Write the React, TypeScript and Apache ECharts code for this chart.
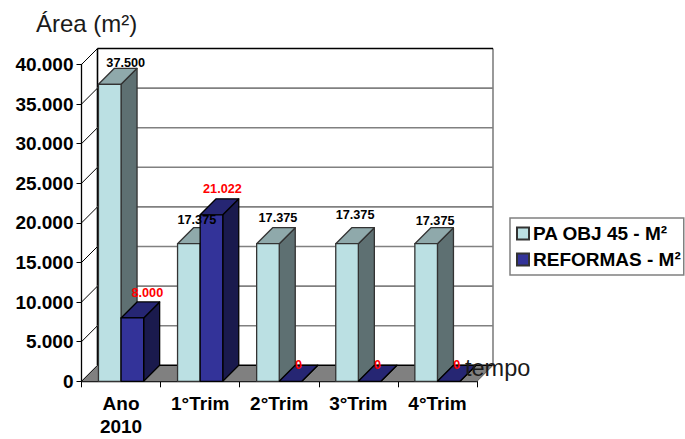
import React, { useEffect, useRef } from "react";
import * as echarts from "echarts";

const categories = ["Ano\n2010", "1°Trim", "2°Trim", "3°Trim", "4°Trim"];
const paObj = [37500, 17375, 17375, 17375, 17375];
const reformas = [8000, 21022, 0, 0, 0];
const yTicks = [0, 5000, 10000, 15000, 20000, 25000, 30000, 35000, 40000];

const DEPTH = 16;
const BAR_W = 22.6;
const FONT = "Liberation Sans, Arial, sans-serif";

// hand placement of the value labels relative to the centre of each bar's top face
const paNudge = [[8, -5], [0, -8], [2, -10], [0, -13], [1, -7]];
const refNudge = [[7, -9], [3, -10], [0, 0], [0, 0], [0, 0]];

const fmt = (v: number) =>
  String(v).replace(/\B(?=(\d{3})+(?!\d))/g, ".");

function barRenderer(seriesIndex: number, c: { front: string; top: string; side: string; edge: string; text: string }, nudges: number[][]) {
  return (_p: any, api: any) => {
    const idx = api.value(0);
    const v = api.value(1);
    const [cx, y1] = api.coord([idx, v]);
    const [, y0] = api.coord([idx, 0]);
    const x0 = cx + (seriesIndex === 0 ? -BAR_W : 0);
    const x1 = x0 + BAR_W;
    const d = DEPTH;
    const edge = { stroke: c.edge, lineWidth: 1.3, lineJoin: "round" };
    const n = nudges[idx];
    const children: any[] = [
      { type: "polygon", shape: { points: [[x1, y0], [x1 + d, y0 - d], [x1 + d, y1 - d], [x1, y1]] }, style: { fill: c.side, ...edge } },
      { type: "polygon", shape: { points: [[x0, y1], [x0 + d, y1 - d], [x1 + d, y1 - d], [x1, y1]] }, style: { fill: c.top, ...edge } },
    ];
    if (v > 0) {
      children.push({ type: "rect", shape: { x: x0, y: y1, width: BAR_W, height: y0 - y1 }, style: { fill: c.front, ...edge } });
    }
    children.push({
      type: "text",
      z2: 100,
      style: {
        x: (x0 + x1) / 2 + d / 2 + n[0],
        y: y1 - d + n[1],
        text: fmt(v),
        fill: c.text,
        font: `bold 12.7px ${FONT}`,
        align: "center",
        verticalAlign: "middle",
      },
    });
    return { type: "group", children };
  };
}

function wallRenderer(_p: any, api: any) {
  const cs = _p.coordSys;
  const v = api.value(0);
  const [, y] = api.coord([0, v]);
  const l = cs.x, r = cs.x + cs.width, d = DEPTH;
  const children: any[] = [];
  if (v === 0) {
    children.push({ type: "polygon", shape: { points: [[l, y], [l + d, y - d], [r + d, y - d], [r, y]] }, style: { fill: "#808080", stroke: "none" } });
    children.push({ type: "line", shape: { x1: l + d, y1: y - d, x2: r + d, y2: y - d }, style: { stroke: "#000", lineWidth: 1.5 } });
    children.push({ type: "line", shape: { x1: r + d, y1: y - d, x2: r, y2: y }, style: { stroke: "#555", lineWidth: 1 } });
    children.push({ type: "line", shape: { x1: r + d, y1: cs.y - d, x2: r + d, y2: y - d }, style: { stroke: "#808080", lineWidth: 1.6 } });
    children.push({ type: "line", shape: { x1: l + d, y1: cs.y - d, x2: l + d, y2: y - d }, style: { stroke: "#000", lineWidth: 1.6 } });
    children.push({ type: "line", shape: { x1: l, y1: y, x2: l + d, y2: y - d }, style: { stroke: "#000", lineWidth: 1 } });
  } else {
    children.push({
      type: "line",
      shape: { x1: l + d, y1: y - d, x2: r + d, y2: y - d },
      style: { stroke: v === yTicks[yTicks.length - 1] ? "#000" : "#808080", lineWidth: 1.6 },
    });
    children.push({ type: "line", shape: { x1: l, y1: y, x2: l + d, y2: y - d }, style: { stroke: "#000", lineWidth: 1 } });
  }
  return { type: "group", children };
}

export default function App() {
  const ref = useRef<HTMLDivElement>(null);
  useEffect(() => {
    const chart = echarts.init(ref.current!, undefined, { renderer: "svg" });
    chart.setOption({
      animation: false,
      backgroundColor: "#fff",
      title: {
        text: "Área (m²)",
        left: 36,
        top: 11,
        padding: 0,
        textStyle: { fontFamily: FONT, fontSize: 24, fontWeight: "normal", color: "#1a1a1a" },
      },
      grid: { left: 81.5, right: 208, top: 64.5, bottom: 57.7, outerBoundsMode: "none" },
      legend: {
        left: 510,
        top: 218,
        orient: "vertical",
        data: ["PA OBJ 45 - M²", "REFORMAS - M²"],
        icon: "rect",
        itemWidth: 12,
        itemHeight: 12,
        itemGap: 7,
        padding: [6, 3, 6, 6],
        backgroundColor: "#fff",
        borderColor: "#808080",
        borderWidth: 1.5,
        selectedMode: false,
        textStyle: { fontFamily: FONT, fontSize: 19, fontWeight: "bold", color: "#000", padding: [0, 0, 0, -1] },
      },
      xAxis: {
        type: "category",
        data: categories,
        axisLine: { lineStyle: { color: "#000", width: 1.3 } },
        axisTick: { show: true, length: 6, alignWithLabel: false, lineStyle: { color: "#000", width: 1 } },
        axisLabel: { interval: 0, margin: 11, fontFamily: FONT, fontSize: 19, fontWeight: "bold", color: "#000", lineHeight: 23 },
      },
      yAxis: {
        type: "value",
        min: 0,
        max: 40000,
        interval: 5000,
        axisLine: { show: true, lineStyle: { color: "#000", width: 1.3 } },
        axisTick: { show: true, length: 5, lineStyle: { color: "#000", width: 1 } },
        splitLine: { show: false },
        axisLabel: { margin: 8, fontFamily: FONT, fontSize: 19, fontWeight: "bold", color: "#000", formatter: (v: number) => fmt(v) },
      },
      graphic: [
        {
          type: "text",
          x: 465,
          y: 356,
          z: 50,
          style: { text: "tempo", font: `23.5px ${FONT}`, fill: "#1a1a1a" },
        },
      ],
      series: [
        {
          type: "custom",
          name: "walls",
          silent: true,
          clip: false,
          z: 1,
          renderItem: wallRenderer,
          encode: { y: 0 },
          data: yTicks.map((v) => [v]),
        },
        {
          type: "custom",
          name: "PA OBJ 45 - M²",
          clip: false,
          z: 2,
          itemStyle: { color: "#BBE0E3", borderColor: "#333", borderWidth: 1 },
          renderItem: barRenderer(0, { front: "#BBE0E3", top: "#8FA9AB", side: "#5E7072", edge: "#333", text: "#000" }, paNudge),
          encode: { x: 0, y: 1 },
          data: paObj.map((v, i) => [i, v]),
        },
        {
          type: "custom",
          name: "REFORMAS - M²",
          clip: false,
          z: 2,
          itemStyle: { color: "#333399", borderColor: "#333", borderWidth: 1 },
          renderItem: barRenderer(1, { front: "#333399", top: "#262673", side: "#1A1A4D", edge: "#000", text: "#FF0000" }, refNudge),
          encode: { x: 0, y: 1 },
          data: reformas.map((v, i) => [i, v]),
        },
      ],
    });
    return () => chart.dispose();
  }, []);
  return <div ref={ref} style={{ position: "fixed", left: 0, top: 0, width: 685, height: 439 }} />;
}
